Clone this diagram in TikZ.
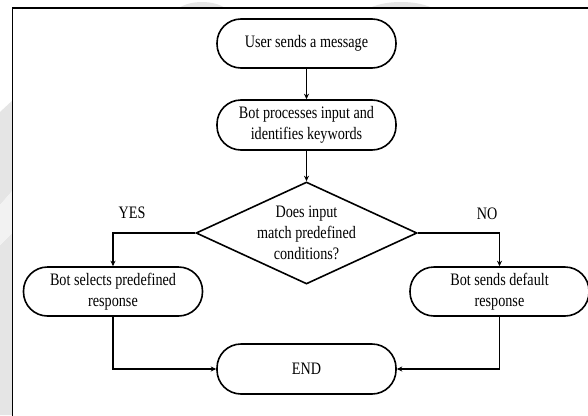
\documentclass[tikz,border=0pt]{standalone}
\usepackage{fontspec}
\setmainfont[FakeStretch=0.81]{Liberation Serif}
\usetikzlibrary{shapes.geometric,arrows.meta}
\newcommand{\lblfont}{\fontsize{17.5}{21}\selectfont}
\begin{document}
\begin{tikzpicture}[x=1pt,y=-1pt,
  term/.style={draw, line width=1.6pt, rectangle, rounded corners=24pt,
    minimum width=179pt, minimum height=49pt, align=center, font=\lblfont, inner sep=2pt},
  decision/.style={draw, line width=1.6pt, diamond, minimum width=221pt,
    minimum height=102pt, inner sep=0pt},
  conn/.style={line width=1.5pt, -{Stealth[length=5.5pt,width=5pt]}},
  lbl/.style={font=\lblfont, align=center, inner sep=0pt},
  wm/.style={fill=gray!20, draw=none}]
\useasboundingbox (0,0) rectangle (588,415);
\clip (0,0) rectangle (588,415);
% faint background watermark
\fill[white] (0,0) rectangle (588,415);
\fill[wm] (202,16) ellipse [x radius=28pt, y radius=14pt];
\fill[wm] (401,18) ellipse [x radius=40pt, y radius=16pt];
\fill[wm] (0,112) -- (13,100) -- (13,190) -- (0,205) -- cycle;
\fill[wm] (0,245) -- (13,232) -- (13,415) -- (0,415) -- cycle;
\fill[gray!10] (0,205) -- (13,190) -- (13,232) -- (0,245) -- cycle;
% frame
\fill[white] (12.5,8) rectangle (600,430);
\draw[line width=1.6pt] (12.5,430) -- (12.5,8) -- (600,8);
% nodes
\node[term] (start) at (306.5,43.5) {User sends a message};
\node[term, minimum height=50pt] (proc) at (306.5,125) {Bot processes input and\\identifies keywords};
\node[decision] (dec) at (306.5,233) {};
\node[lbl] (dectext) at (dec.center) {Does input\\match predefined\\conditions?};
\node[term] (sel) at (113,291.5) {Bot selects predefined\\response};
\node[term] (def) at (499.5,291.5) {Bot sends default\\response};
\node[term, minimum height=50pt] (end) at (306.5,369) {END};
\node[lbl] (yes) at (132,213) {YES};
\node[lbl] (no) at (487,214) {NO};
% connectors
\draw[conn] (start) -- (proc);
\draw[conn] (proc) -- (dec);
\draw[conn] (dec.west) -| (sel.north);
\draw[conn] (dec.east) -| (def.north);
\draw[conn] (sel.south) |- (end.west);
\draw[conn] (def.south) |- (end.east);
\end{tikzpicture}
\end{document}
